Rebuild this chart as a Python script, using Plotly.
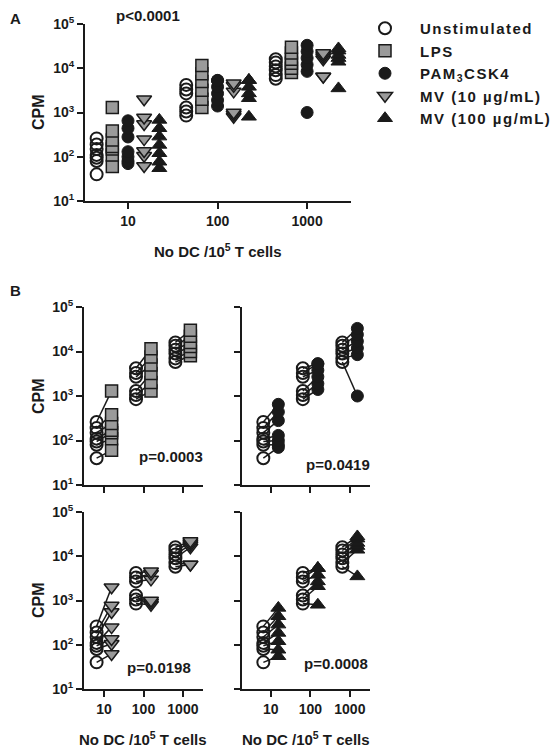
import plotly.graph_objects as go

# ---------------- data (CPM per donor; same donor order across conditions) ----
doses = [10, 100, 1000]
dose_labels = ["10", "100", "1000"]
unstim = [[40, 80, 95, 110, 150, 190, 260],
          [850, 1050, 1300, 2700, 3300, 4200],
          [5800, 7000, 9000, 11000, 13500, 16000]]
lps = [[60, 110, 150, 170, 240, 380, 1300],
       [1300, 2000, 3200, 5000, 7500, 11500],
       [8000, 10000, 13000, 16000, 22000, 30000]]
pam = [[70, 80, 100, 130, 280, 440, 650],
       [1400, 1900, 2700, 3800, 5300, 5300],
       [1000, 8500, 12000, 17000, 24000, 33000]]
mv10 = [[62, 105, 135, 250, 550, 770, 2000],
        [800, 900, 1000, 3000, 4000, 4600],
        [6500, 6500, 16000, 18000, 20000, 22000]]
mv100 = [[55, 77, 120, 185, 285, 440, 680],
         [800, 2100, 2700, 3800, 5400, 5400],
         [3500, 14000, 17000, 20000, 25000, 28000]]

series_names = ["Unstimulated", "LPS", "PAM<sub>3</sub>CSK4",
                "MV (10 \u00b5g/mL)", "MV (100 \u00b5g/mL)"]
series_data = [unstim, lps, pam, mv10, mv100]
p_main = "p<0.0001"
p_pairs = ["p=0.0003", "p=0.0419", "p=0.0198", "p=0.0008"]
x_title = "No DC /10<sup>5</sup> T cells"
y_title = "CPM"

y_ticks = [10, 100, 1000, 10000, 100000]
y_ticktext = ["10<sup>1</sup>", "10<sup>2</sup>", "10<sup>3</sup>", "10<sup>4</sup>", "10<sup>5</sup>"]

# ---------------- styles / geometry ----------------
PAGE_OFF = 8              # default body margin of the html page
W, H = 559 - PAGE_OFF, 750 - PAGE_OFF
GRAY = "#9a9a9a"
INK = "#1a1a1a"
FONT = "Liberation Sans, Arial, sans-serif"
styles = [
    dict(symbol="circle", color="rgba(255,255,255,0)", line=dict(color=INK, width=2)),
    dict(symbol="square", color=GRAY, line=dict(color=INK, width=1.5)),
    dict(symbol="circle", color=INK, line=dict(color=INK, width=1)),
    dict(symbol="triangle-down", color=GRAY, line=dict(color=INK, width=1.5)),
    dict(symbol="triangle-up", color=INK, line=dict(color=INK, width=1)),
]
sizes = [12, 12, 12, 13, 13]
offsets_A = [-0.35, -0.175, 0.0, 0.18, 0.35]   # dodge in decades
offsets_B = [-0.19, 0.19]


def fx(px):
    return (px - PAGE_OFF) / W


def fy(py):
    return 1 - (py - PAGE_OFF) / H


def px_x(a, b):
    return [fx(a), fx(b)]


def px_y(top, bottom):
    return [fy(bottom), fy(top)]


def bold(size):
    return dict(family=FONT, size=size, color=INK, weight="bold")


def spaced(s):
    return '<span style="letter-spacing:1.5px">' + s + '</span>'


fig = go.Figure()

axes = {
    # name: (xdomain, ydomain, xrange)
    "": (px_x(85, 351), px_y(24, 201), [0.52, 3.49]),
    "2": (px_x(84, 203), px_y(307, 485), [0.49, 3.51]),
    "3": (px_x(242, 370), px_y(307, 485), [0.27, 3.51]),
    "4": (px_x(84, 203), px_y(512, 689), [0.49, 3.51]),
    "5": (px_x(242, 370), px_y(512, 689), [0.27, 3.51]),
}

tickfont = bold(14)
for k, (xd, yd, xr) in axes.items():
    show_xlab = k in ("", "4", "5")
    show_ylab = k in ("", "2", "4")
    fig.layout["xaxis" + k] = dict(
        domain=xd, type="log", range=xr, anchor="y" + k,
        showline=True, linecolor=INK, linewidth=2, ticks="outside",
        ticklen=6, tickwidth=2, tickcolor=INK, showgrid=False, zeroline=False,
        tickvals=doses, ticktext=dose_labels if show_xlab else ["", "", ""],
        tickfont=tickfont, automargin=False,
    )
    fig.layout["yaxis" + k] = dict(
        domain=yd, type="log", range=[1, 5], anchor="x" + k,
        showline=True, linecolor=INK, linewidth=2, ticks="outside",
        ticklen=6, tickwidth=2, tickcolor=INK, showgrid=False, zeroline=False,
        tickvals=y_ticks, ticktext=y_ticktext if show_ylab else [""] * 5,
        tickfont=tickfont, automargin=False,
    )

# ---------------- Panel A ----------------
for si, (name, data) in enumerate(zip(series_names, series_data)):
    xs, ys = [], []
    for di, d in enumerate(doses):
        for v in data[di]:
            xs.append(d * 10 ** offsets_A[si])
            ys.append(v)
    st = styles[si]
    fig.add_trace(go.Scatter(
        x=xs, y=ys, mode="markers", name=spaced(name), legendgroup=name,
        marker=dict(symbol=st["symbol"], color=st["color"], line=st["line"], size=sizes[si]),
        xaxis="x", yaxis="y", showlegend=True, cliponaxis=False,
    ))

# ---------------- Panel B ----------------
for pi, k in enumerate(["2", "3", "4", "5"]):
    si = pi + 1
    data = series_data[si]
    lx, ly = [], []
    ux, uy, sx, sy = [], [], [], []
    for di, d in enumerate(doses):
        for a, b in zip(unstim[di], data[di]):
            x0 = d * 10 ** offsets_B[0]
            x1 = d * 10 ** offsets_B[1]
            lx += [x0, x1, None]
            ly += [a, b, None]
            ux.append(x0); uy.append(a)
            sx.append(x1); sy.append(b)
    fig.add_trace(go.Scatter(x=lx, y=ly, mode="lines", line=dict(color=INK, width=1.5),
                             xaxis="x" + k, yaxis="y" + k, showlegend=False, hoverinfo="skip"))
    st0 = styles[0]
    fig.add_trace(go.Scatter(x=ux, y=uy, mode="markers",
                             marker=dict(symbol=st0["symbol"], color=st0["color"],
                                         line=st0["line"], size=sizes[0]),
                             xaxis="x" + k, yaxis="y" + k, showlegend=False, cliponaxis=False))
    st = styles[si]
    fig.add_trace(go.Scatter(x=sx, y=sy, mode="markers",
                             marker=dict(symbol=st["symbol"], color=st["color"], line=st["line"],
                                         size=sizes[si]),
                             xaxis="x" + k, yaxis="y" + k, showlegend=False, cliponaxis=False))

# ---------------- annotations ----------------
ann = [
    dict(text="A", x=fx(8), y=fy(8), xanchor="left", yanchor="top", font=bold(15)),
    dict(text="B", x=fx(8), y=fy(290), xanchor="left", font=bold(15)),
    dict(text=p_main, x=fx(148), y=fy(16), font=bold(15)),
    dict(text=x_title, x=fx(218), y=fy(250), font=bold(15)),
    dict(text=x_title, x=fx(143), y=fy(738), font=bold(15)),
    dict(text=x_title, x=fx(306), y=fy(738), font=bold(15)),
]
for yc in (112, 396, 600):
    ann.append(dict(text=y_title, x=fx(38), y=fy(yc), textangle=-90, font=bold(16)))
for t, (xr, yc) in zip(p_pairs, [(205, 457), (372, 464), (193, 667), (370, 663)]):
    ann.append(dict(text=t, x=fx(xr), y=fy(yc), xanchor="right", font=bold(15)))
for a in ann:
    a.setdefault("xanchor", "center")
    a.setdefault("yanchor", "middle")
    a.update(xref="paper", yref="paper", showarrow=False)
fig.update_layout(annotations=ann)

fig.update_layout(
    width=W, height=H, margin=dict(l=0, r=0, t=0, b=0, pad=0, autoexpand=False),
    paper_bgcolor="white", plot_bgcolor="white",
    font=dict(family=FONT, color=INK, weight="bold"),
    legend=dict(x=fx(350), y=fy(12), xanchor="left", yanchor="top",
                font=bold(15), tracegroupgap=0, bgcolor="rgba(0,0,0,0)", itemwidth=60),
)

fig.write_html("out.html")
